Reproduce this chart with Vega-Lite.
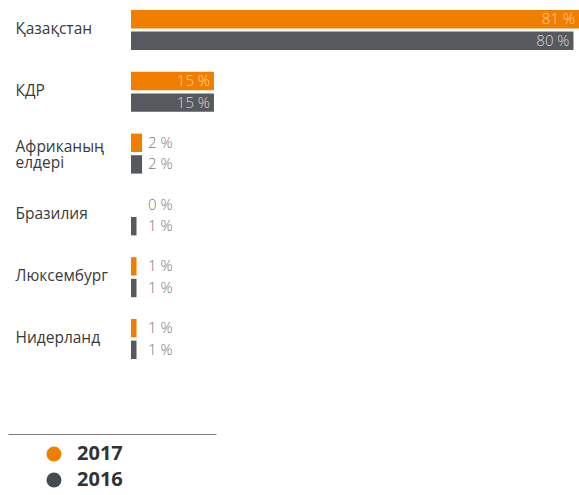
{
  "$schema": "https://vega.github.io/schema/vega-lite/v6.json",
  "padding": {"left": 8, "top": 0, "right": 0, "bottom": 0},
  "config": {"view": {"stroke": null}, "font": "Open Sans"},
  "spacing": 65,
  "resolve": {"scale": {"color": "independent"}},
  "vconcat": [
    {
      "width": 448,
      "height": 369,
      "data": {"values": [
        {"country": "Қазақстан", "year": "2017", "value": 81},
        {"country": "Қазақстан", "year": "2016", "value": 80},
        {"country": "КДР", "year": "2017", "value": 15},
        {"country": "КДР", "year": "2016", "value": 15},
        {"country": "Африканың елдері", "year": "2017", "value": 2},
        {"country": "Африканың елдері", "year": "2016", "value": 2},
        {"country": "Бразилия", "year": "2017", "value": 0},
        {"country": "Бразилия", "year": "2016", "value": 1},
        {"country": "Люксембург", "year": "2017", "value": 1},
        {"country": "Люксембург", "year": "2016", "value": 1},
        {"country": "Нидерланд", "year": "2017", "value": 1},
        {"country": "Нидерланд", "year": "2016", "value": 1}
      ]},
      "transform": [{"calculate": "datum.value + ' %'", "as": "label"}],
      "encoding": {
        "y": {
          "field": "country", "type": "nominal",
          "sort": ["Қазақстан", "КДР", "Африканың елдері", "Бразилия", "Люксембург", "Нидерланд"],
          "scale": {"paddingInner": 0.353, "paddingOuter": 0.162},
          "axis": {
            "title": null, "domain": false, "ticks": false,
            "labelAlign": "left", "labelPadding": 116, "minExtent": 123, "maxExtent": 200,
            "labelFontSize": 15.5, "labelColor": "#3a3a3a", "labelFont": "Open Sans",
            "labelLineHeight": 16.5, "labelLimit": 0,
            "labelOffset": {"condition": {"test": "datum.value == 'Африканың елдері'", "value": -7}, "value": -1},
            "labelExpr": "datum.label == 'Африканың елдері' ? ['Африканың', 'елдері'] : datum.label"
          }
        },
        "yOffset": {"field": "year", "type": "nominal", "sort": ["2017", "2016"], "scale": {"paddingInner": 0.15}}
      },
      "layer": [
        {
          "mark": {"type": "bar"},
          "encoding": {
            "x": {"field": "value", "type": "quantitative", "scale": {"domain": [0, 81], "nice": false}, "axis": null},
            "color": {"field": "year", "type": "nominal", "scale": {"domain": ["2017", "2016"], "range": ["#f07f00", "#56595d"]}, "legend": null}
          }
        },
        {
          "transform": [{"filter": "datum.value >= 10"}],
          "mark": {"type": "text", "align": "right", "dx": -4, "fontSize": 15, "fontWeight": 300},
          "encoding": {
            "x": {"field": "value", "type": "quantitative"},
            "text": {"field": "label"},
            "color": {"condition": {"test": "datum.year == '2017'", "value": "#fbd0a3"}, "value": "#d8d8d8"}
          }
        },
        {
          "transform": [{"filter": "datum.value < 10"}],
          "mark": {"type": "text", "align": "left", "dx": 17, "fontSize": 15, "fontWeight": 300, "color": "#7a7a7a"},
          "encoding": {
            "x": {"datum": 0, "type": "quantitative"},
            "text": {"field": "label"}
          }
        }
      ]
    },
    {
      "width": 85,
      "height": 66,
      "data": {"values": [{"year": "2017"}, {"year": "2016"}]},
      "encoding": {
        "y": {"field": "year", "type": "nominal", "sort": ["2017", "2016"], "scale": {"type": "point", "padding": 0.769}, "axis": null}
      },
      "layer": [
        {
          "mark": {"type": "point", "filled": true, "size": 225, "opacity": 1},
          "encoding": {
            "x": {"datum": 0.221, "type": "quantitative", "scale": {"domain": [0, 1], "nice": false, "range": [-123, 85]},
              "axis": {"orient": "top", "domain": true, "domainColor": "#7a7a7a", "domainWidth": 1, "ticks": false, "labels": false, "grid": false, "title": null, "minExtent": 0, "maxExtent": 0}},
            "color": {"field": "year", "type": "nominal", "scale": {"domain": ["2017", "2016"], "range": ["#f07f00", "#454c50"]}, "legend": null}
          }
        },
        {
          "mark": {"type": "text", "align": "left", "fontSize": 20, "fontWeight": "bold", "color": "#333333"},
          "encoding": {
            "x": {"datum": 0.332, "type": "quantitative"},
            "text": {"field": "year"}
          }
        }
      ]
    }
  ]
}
